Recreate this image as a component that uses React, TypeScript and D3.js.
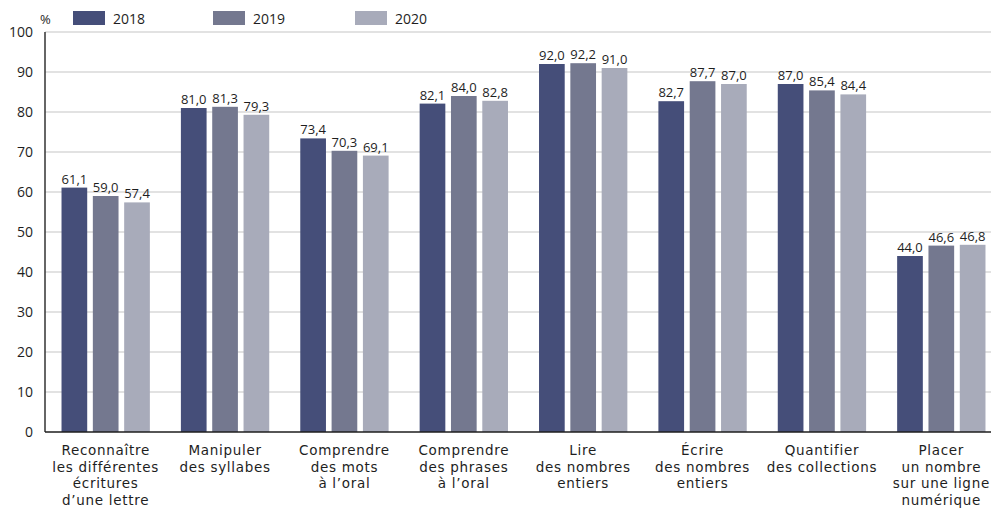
import React from "react";
import * as d3 from "d3";

const categories: string[][] = [
  ["Reconnaître", "les différentes", "écritures", "d’une lettre"],
  ["Manipuler", "des syllabes"],
  ["Comprendre", "des mots", "à l’oral"],
  ["Comprendre", "des phrases", "à l’oral"],
  ["Lire", "des nombres", "entiers"],
  ["Écrire", "des nombres", "entiers"],
  ["Quantifier", "des collections"],
  ["Placer", "un nombre", "sur une ligne", "numérique"],
];
const seriesNames = ["2018", "2019", "2020"];
const values2018 = [61.1, 81.0, 73.4, 82.1, 92.0, 82.7, 87.0, 44.0];
const values2019 = [59.0, 81.3, 70.3, 84.0, 92.2, 87.7, 85.4, 46.6];
const values2020 = [57.4, 79.3, 69.1, 82.8, 91.0, 87.0, 84.4, 46.8];
const yTicks = [0, 10, 20, 30, 40, 50, 60, 70, 80, 90, 100];
const colors = ["#454e79", "#74788f", "#a8abba"];

const W = 991;
const H = 509;
const FONT = "'Open Sans', sans-serif";
const LABEL_FONT = "'DejaVu Sans', sans-serif";

export default function App() {
  const series = [values2018, values2019, values2020];
  const keys = categories.map((c, i) => String(i));
  const x = d3.scaleBand<string>().domain(keys).range([46, 1001]).paddingInner(0.26).paddingOuter(0.13);
  const xi = d3.scaleBand<string>().domain(seriesNames).range([0, x.bandwidth()]).paddingInner(0.18);
  const y = d3.scaleLinear().domain([0, 100]).range([432, 32]);
  const fmt = (v: number) => d3.format(".1f")(v).replace(".", ",");
  const axisX = 45;
  const legendX = [73, 213, 355];

  return (
    <svg width={W} height={H} style={{ position: "absolute", left: 0, top: 0, background: "#fff" }} fontFamily={FONT}>
      <rect width={W} height={H} fill="#fff" />
      {yTicks.map((t) => (
        <g key={t}>
          {t > 0 && <line x1={axisX} x2={W} y1={y(t)} y2={y(t)} stroke="#c6c6c6" strokeWidth={1.2} />}
          <text x={33} y={y(t) + 5} textAnchor="end" fontSize={14} fill="#1e1e1e">{t}</text>
        </g>
      ))}
      <text x={40} y={24} fontSize={13} fill="#1e1e1e">%</text>
      {seriesNames.map((s, i) => (
        <g key={s}>
          <rect x={legendX[i]} y={11} width={32} height={14} fill={colors[i]} />
          <text x={legendX[i] + 40} y={23.5} fontSize={14} fill="#1e1e1e">{s}</text>
        </g>
      ))}
      {keys.map((k, ci) => (
        <g key={k} transform={`translate(${x(k)},0)`}>
          {seriesNames.map((s, si) => {
            const v = series[si][ci];
            const bx = xi(s)!;
            return (
              <g key={s}>
                <rect x={bx} y={y(v)} width={xi.bandwidth()} height={y(0) - y(v)} fill={colors[si]} />
                <text x={bx + xi.bandwidth() / 2} y={y(v) - 4} textAnchor="middle" fontSize={13} fill="#1e1e1e">{fmt(v)}</text>
              </g>
            );
          })}
          {categories[ci].map((line, li) => (
            <text key={li} x={x.bandwidth() / 2} y={455 + li * 16.7} textAnchor="middle" fontFamily={LABEL_FONT} fontSize={13.5} letterSpacing={0.7} fill="#1e1e1e">{line}</text>
          ))}
        </g>
      ))}
      <line x1={axisX} x2={axisX} y1={32} y2={432} stroke="#333" strokeWidth={1.5} />
      <line x1={axisX} x2={W} y1={432} y2={432} stroke="#1e1e1e" strokeWidth={1.5} />
    </svg>
  );
}
